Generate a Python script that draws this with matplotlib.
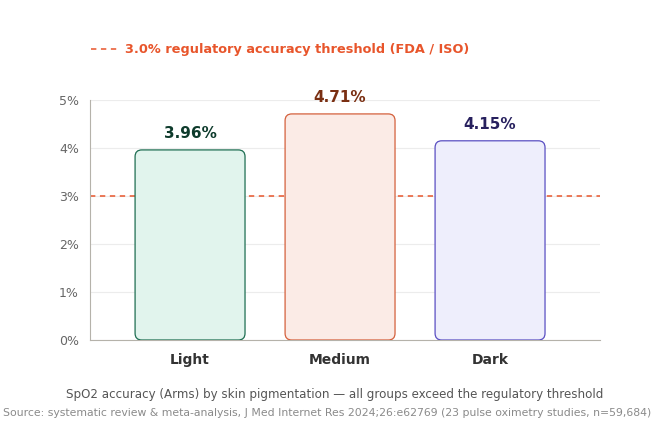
import matplotlib.pyplot as plt
from matplotlib.patches import FancyBboxPatch

# data
groups = ['Light', 'Medium', 'Dark']
arms = [3.96, 4.71, 4.15]
threshold = 3.0
yticks = [0, 1, 2, 3, 4, 5]

fills = ['#e1f4ed', '#fbebe6', '#eeeefc']
edges = ['#1e6e52', '#d4603c', '#5a4fc2']
label_colors = ['#0e3b2c', '#7a2f12', '#27205e']
accent = '#e8552b'

fig = plt.figure(figsize=(6.6, 4.4), dpi=100)
ax = fig.add_axes([90 / 660, 100 / 440, 510 / 660, 240 / 440])

bar_w = 0.733
for i, (g, v) in enumerate(zip(groups, arms)):
    box = FancyBboxPatch((i - bar_w / 2, 0), bar_w, v,
                         boxstyle='round,pad=0,rounding_size=0.045',
                         mutation_aspect=3.1,
                         facecolor=fills[i], edgecolor=edges[i], linewidth=0.9,
                         zorder=3)
    ax.add_patch(box)
    ax.text(i, v + 0.18, f'{v:.2f}%', ha='center', va='bottom',
            fontsize=11, fontweight='bold', color=label_colors[i], zorder=4)

ax.axhline(threshold, color=accent, linestyle=(0, (3.5, 3)), linewidth=1.1,
           zorder=2, label='3.0% regulatory accuracy threshold (FDA / ISO)')

ax.set_xlim(-0.667, 2.733)
ax.set_ylim(0, 5)
ax.set_xticks(range(len(groups)))
ax.set_xticklabels(groups, fontsize=10, fontweight='bold', color='#333333')
ax.set_yticks(yticks)
ax.set_yticklabels([f'{t}%' for t in yticks], fontsize=9, color='#666666')
ax.tick_params(axis='both', length=0)
ax.tick_params(axis='x', pad=9)
ax.tick_params(axis='y', pad=8)
ax.grid(axis='y', color='#ececec', linewidth=0.8, zorder=0)
ax.set_axisbelow(True)

for s in ['top', 'right']:
    ax.spines[s].set_visible(False)
ax.spines['left'].set_color('#b5b2aa')
ax.spines['bottom'].set_color('#b5b2aa')
ax.spines['left'].set_linewidth(0.8)
ax.spines['bottom'].set_linewidth(0.8)

leg = ax.legend(loc='lower left', bbox_to_anchor=(-0.008, 1.16), frameon=False,
                handlelength=2.2, handletextpad=0.45, borderaxespad=0,
                prop={'size': 9.3, 'weight': 'bold'}, labelcolor=accent)

fig.text(335 / 660, 46 / 440, 'SpO2 accuracy (Arms) by skin pigmentation \u2014 all groups exceed the regulatory threshold',
         ha='center', va='center', fontsize=8.6, color='#555555')
fig.text(327 / 660, 27 / 440, 'Source: systematic review & meta-analysis, J Med Internet Res 2024;26:e62769 (23 pulse oximetry studies, n=59,684)',
         ha='center', va='center', fontsize=7.85, color='#8a8a8a')

fig.savefig('out.png', dpi=100)
